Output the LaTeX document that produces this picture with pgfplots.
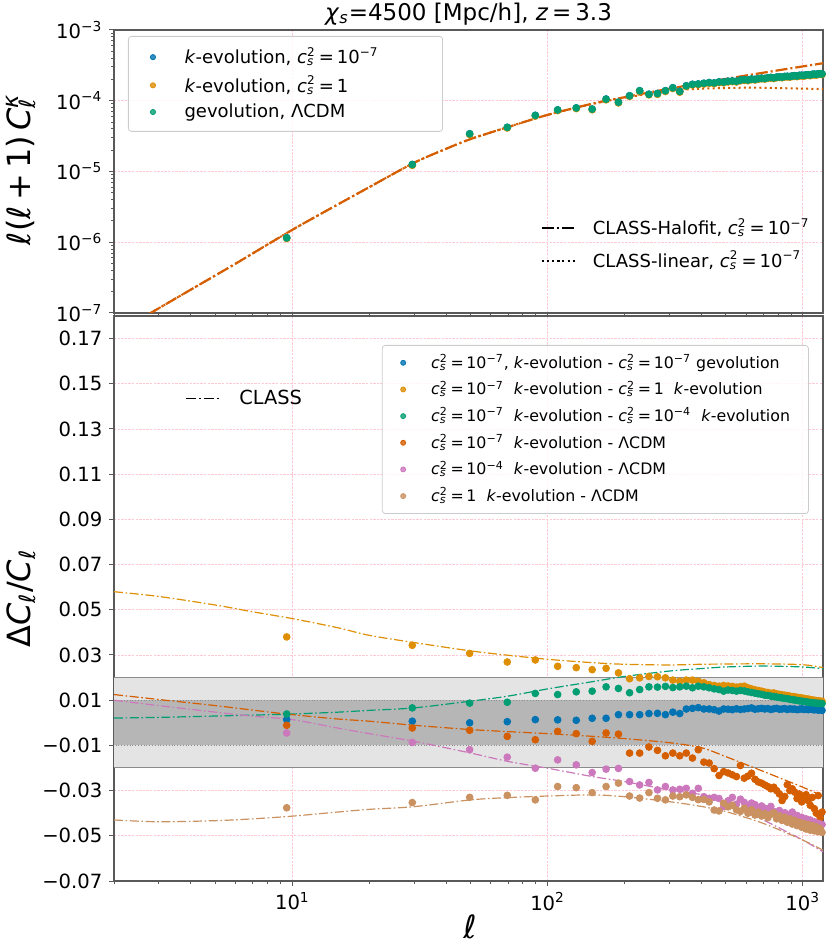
\documentclass[border=0pt]{standalone}
\usepackage{fontspec}
\setmainfont{DejaVu Sans}
\usepackage{pgfplots}
\pgfplotsset{compat=1.18}
\usepackage{pgfplotstable}

\definecolor{cblue}{RGB}{1,115,178}
\definecolor{corange}{RGB}{222,143,5}
\definecolor{cgreen}{RGB}{2,158,115}
\definecolor{cred}{RGB}{213,94,0}
\definecolor{cpink}{RGB}{204,120,188}
\definecolor{ctan}{RGB}{202,145,97}
\definecolor{gridpink}{RGB}{255,200,210}
\definecolor{bandlight}{RGB}{228,228,228}
\definecolor{banddark}{RGB}{182,182,182}

\newcommand{\li}{\textit{ℓ}}
\newcommand{\cs}{\textit{c}\rlap{\textsuperscript{2}}\textsubscript{\textit{s}}\hspace{0.09em}}
\newcommand{\ex}[1]{\textsuperscript{−#1}}

% top panel: l(l+1) C_l^kappa
\pgfplotstableread{
l b o g
9.5 1.16e-6 1.13e-6 1.15e-6
29.5 1.26e-5 1.22e-5 1.25e-5
49.5 3.42e-5 3.33e-5 3.40e-5
69.5 4.22e-5 4.12e-5 4.20e-5
89.5 6.23e-5 6.08e-5 6.20e-5
109.5 7.44e-5 7.25e-5 7.40e-5
129.5 7.94e-5 7.74e-5 7.90e-5
149.5 7.64e-5 7.45e-5 7.60e-5
169.5 1.06e-4 1.03e-4 1.05e-4
189.5 9.55e-5 9.31e-5 9.50e-5
209.5 1.18e-4 1.15e-4 1.17e-4
229.5 1.39e-4 1.35e-4 1.38e-4
249.5 1.24e-4 1.21e-4 1.23e-4
269.5 1.27e-4 1.23e-4 1.26e-4
289.5 1.39e-4 1.35e-4 1.38e-4
309.5 1.53e-4 1.49e-4 1.52e-4
329.5 1.36e-4 1.32e-4 1.35e-4
349.5 1.63e-4 1.59e-4 1.62e-4
369.5 1.71e-4 1.67e-4 1.70e-4
389.5 1.73e-4 1.69e-4 1.72e-4
409.5 1.77e-4 1.72e-4 1.76e-4
429.5 1.81e-4 1.76e-4 1.80e-4
449.5 1.79e-4 1.74e-4 1.78e-4
469.5 1.85e-4 1.80e-4 1.84e-4
489.5 1.84e-4 1.79e-4 1.83e-4
509.5 1.89e-4 1.84e-4 1.88e-4
529.5 1.91e-4 1.86e-4 1.90e-4
549.5 1.89e-4 1.84e-4 1.88e-4
569.5 1.96e-4 1.91e-4 1.95e-4
589.5 1.99e-4 1.94e-4 1.98e-4
609.5 1.97e-4 1.92e-4 1.96e-4
629.5 2.03e-4 1.98e-4 2.02e-4
649.5 2.01e-4 1.96e-4 2.00e-4
669.5 2.06e-4 2.01e-4 2.05e-4
689.5 2.09e-4 2.04e-4 2.08e-4
709.5 2.07e-4 2.02e-4 2.06e-4
729.5 2.12e-4 2.07e-4 2.11e-4
749.5 2.14e-4 2.09e-4 2.13e-4
769.5 2.11e-4 2.06e-4 2.10e-4
789.5 2.16e-4 2.11e-4 2.15e-4
809.5 2.18e-4 2.13e-4 2.17e-4
829.5 2.16e-4 2.11e-4 2.15e-4
849.5 2.21e-4 2.16e-4 2.20e-4
869.5 2.22e-4 2.17e-4 2.21e-4
889.5 2.20e-4 2.15e-4 2.19e-4
909.5 2.25e-4 2.20e-4 2.24e-4
929.5 2.26e-4 2.21e-4 2.25e-4
949.5 2.24e-4 2.19e-4 2.23e-4
969.5 2.29e-4 2.23e-4 2.28e-4
989.5 2.30e-4 2.24e-4 2.29e-4
1009.5 2.28e-4 2.22e-4 2.27e-4
1029.5 2.33e-4 2.27e-4 2.32e-4
1049.5 2.34e-4 2.28e-4 2.33e-4
1069.5 2.32e-4 2.26e-4 2.31e-4
1089.5 2.37e-4 2.31e-4 2.36e-4
1109.5 2.38e-4 2.32e-4 2.37e-4
1129.5 2.36e-4 2.30e-4 2.35e-4
1149.5 2.41e-4 2.35e-4 2.40e-4
1169.5 2.42e-4 2.36e-4 2.41e-4
1189.5 2.40e-4 2.34e-4 2.39e-4
}\toptab

\pgfplotstableread{
l v
2 5.0e-8
3 1.17e-7
4 2.14e-7
6 5.0e-7
10 1.50e-6
15 3.39e-6
20 6.0e-6
30 1.33e-5
40 2.09e-5
50 2.88e-5
70 4.25e-5
100 6.31e-5
150 9.1e-5
200 1.12e-4
300 1.48e-4
500 2.04e-4
800 2.69e-4
1200 3.39e-4
}\halotab

\pgfplotstableread{
l v
2 5.0e-8
3 1.17e-7
4 2.14e-7
6 5.0e-7
10 1.50e-6
15 3.39e-6
20 6.0e-6
30 1.33e-5
40 2.09e-5
50 2.88e-5
70 4.25e-5
100 6.31e-5
150 9.0e-5
200 1.10e-4
300 1.38e-4
400 1.48e-4
600 1.53e-4
800 1.51e-4
1200 1.46e-4
}\lintab

% bottom panel: Delta C_l / C_l
\pgfplotstableread{
l b o g r p t
9.5 0.0014 0.0380 0.0039 -0.0011 -0.0045 -0.0376
29.5 0.0007 0.0343 0.0066 -0.0023 -0.0087 -0.0353
49.5 0.0000 0.0307 0.0087 -0.0033 -0.0119 -0.0330
69.5 0.0005 0.0269 0.0091 -0.0060 -0.0152 -0.0321
89.5 0.0014 0.0278 0.0130 -0.0075 -0.0201 -0.0341
109.5 0.0013 0.0250 0.0125 -0.0038 -0.0164 -0.0282
129.5 0.0011 0.0244 0.0137 -0.0048 -0.0186 -0.0287
149.5 0.0020 0.0235 0.0140 -0.0082 -0.0220 -0.0309
169.5 0.0020 0.0241 0.0159 -0.0045 -0.0205 -0.0282
189.5 0.0036 0.0221 0.0152 -0.0050 -0.0202 -0.0267
209.5 0.0036 0.0195 0.0133 -0.0134 -0.0260 -0.0324
229.5 0.0036 0.0199 0.0147 -0.0134 -0.0275 -0.0333
249.5 0.0041 0.0205 0.0159 -0.0107 -0.0264 -0.0309
269.5 0.0042 0.0204 0.0158 -0.0122 -0.0297 -0.0334
289.5 0.0036 0.0199 0.0161 -0.0146 -0.0282 -0.0341
309.5 0.0047 0.0189 0.0156 -0.0134 -0.0297 -0.0324
329.5 0.0041 0.0184 0.0159 -0.0146 -0.0294 -0.0327
349.5 0.0061 0.0189 0.0162 -0.0134 -0.0290 -0.0319
369.5 0.0064 0.0189 0.0155 -0.0156 -0.0312 -0.0330
389.5 0.0067 0.0184 0.0162 -0.0119 -0.0290 -0.0340
409.5 0.0061 0.0177 0.0159 -0.0174 -0.0327 -0.0339
429.5 0.0061 0.0169 0.0155 -0.0178 -0.0334 -0.0350
449.5 0.0058 0.0165 0.0150 -0.0203 -0.0330 -0.0386
469.5 0.0052 0.0162 0.0147 -0.0233 -0.0335 -0.0390
489.5 0.0061 0.0165 0.0140 -0.0216 -0.0371 -0.0356
509.5 0.0060 0.0163 0.0145 -0.0222 -0.0345 -0.0372
529.5 0.0058 0.0161 0.0143 -0.0230 -0.0330 -0.0365
549.5 0.0062 0.0158 0.0140 -0.0238 -0.0360 -0.0385
569.5 0.0059 0.0160 0.0143 -0.0189 -0.0338 -0.0392
589.5 0.0061 0.0162 0.0141 -0.0245 -0.0352 -0.0378
609.5 0.0063 0.0155 0.0137 -0.0236 -0.0372 -0.0400
629.5 0.0066 0.0150 0.0134 -0.0223 -0.0355 -0.0385
649.5 0.0060 0.0146 0.0131 -0.0250 -0.0362 -0.0408
669.5 0.0062 0.0143 0.0128 -0.0262 -0.0385 -0.0395
689.5 0.0064 0.0140 0.0126 -0.0267 -0.0368 -0.0412
709.5 0.0061 0.0136 0.0122 -0.0275 -0.0378 -0.0402
729.5 0.0063 0.0134 0.0121 -0.0282 -0.0395 -0.0420
749.5 0.0059 0.0131 0.0118 -0.0292 -0.0370 -0.0405
769.5 0.0062 0.0132 0.0116 -0.0285 -0.0392 -0.0398
789.5 0.0064 0.0128 0.0114 -0.0300 -0.0405 -0.0425
809.5 0.0060 0.0126 0.0112 -0.0315 -0.0388 -0.0412
829.5 0.0061 0.0124 0.0110 -0.0344 -0.0410 -0.0432
849.5 0.0063 0.0122 0.0108 -0.0326 -0.0398 -0.0418
869.5 0.0059 0.0121 0.0107 -0.0274 -0.0420 -0.0440
889.5 0.0062 0.0118 0.0104 -0.0300 -0.0405 -0.0425
909.5 0.0060 0.0116 0.0102 -0.0292 -0.0395 -0.0448
929.5 0.0061 0.0115 0.0101 -0.0307 -0.0428 -0.0432
949.5 0.0058 0.0113 0.0099 -0.0335 -0.0410 -0.0455
969.5 0.0060 0.0111 0.0097 -0.0315 -0.0435 -0.0440
989.5 0.0062 0.0110 0.0096 -0.0350 -0.0418 -0.0462
1009.5 0.0059 0.0108 0.0094 -0.0330 -0.0440 -0.0445
1029.5 0.0060 0.0106 0.0093 -0.0318 -0.0425 -0.0470
1049.5 0.0058 0.0105 0.0091 -0.0344 -0.0448 -0.0450
1069.5 0.0061 0.0103 0.0090 -0.0365 -0.0430 -0.0475
1089.5 0.0059 0.0101 0.0089 -0.0330 -0.0452 -0.0455
1109.5 0.0057 0.0100 0.0088 -0.0380 -0.0438 -0.0478
1129.5 0.0059 0.0098 0.0087 -0.0400 -0.0460 -0.0460
1149.5 0.0056 0.0097 0.0086 -0.0322 -0.0445 -0.0482
1169.5 0.0058 0.0096 0.0086 -0.0420 -0.0465 -0.0468
1189.5 0.0055 0.0095 0.0085 -0.0395 -0.0450 -0.0485
}\bottab

\pgfplotstableread{
l o g r p t
2 0.0580 0.0021 0.0125 0.0100 -0.0430
3 0.0559 0.0024 0.0103 0.0076 -0.0438
5 0.0521 0.0030 0.0076 0.0047 -0.0433
7 0.0491 0.0034 0.0056 0.0029 -0.0425
10 0.0461 0.0039 0.0036 0.0014 -0.0413
15 0.0421 0.0047 0.0017 -0.0023 -0.0395
20 0.0387 0.0055 0.0007 -0.0048 -0.0383
30 0.0355 0.0066 -0.0011 -0.0082 -0.0371
50 0.0318 0.0096 -0.0030 -0.0134 -0.0341
70 0.0299 0.0118 -0.0039 -0.0171 -0.0331
100 0.0281 0.0150 -0.0048 -0.0201 -0.0324
150 0.0266 0.0182 -0.0060 -0.0238 -0.0319
200 0.0259 0.0205 -0.0070 -0.0260 -0.0327
300 0.0256 0.0229 -0.0088 -0.0297 -0.0349
400 0.0259 0.0240 -0.0110 -0.0318 -0.0370
500 0.0260 0.0247 -0.0150 -0.0356 -0.0393
700 0.0261 0.0251 -0.0215 -0.0430 -0.0445
1000 0.0257 0.0247 -0.0285 -0.0519 -0.0519
1200 0.0244 0.0239 -0.0325 -0.0571 -0.0564
}\classtab

\begin{document}
\begin{tikzpicture}
% ---------------- top panel ----------------
\begin{axis}[scale only axis, width=354.5pt, height=141.5pt,
  at={(0pt,284pt)}, anchor=south west,
  xmode=log, xmin=2, xmax=1200,
  ymode=log, ymin=1e-7, ymax=1e-3,
  axis line style={black!65, line width=0.6pt},
  tick style={black!65, line width=0.5pt},
  major tick length=2.3pt, minor tick length=1.4pt,
  tick align=outside, xtick pos=left, ytick pos=left,
  xmajorgrids, ymajorgrids,
  major grid style={gridpink, line width=0.4pt, dash pattern=on 1.2pt off 0.6pt},
  tick label style={font=\fontsize{9.8}{11}\selectfont},
  xtick={10,100,1000},
  minor xtick={2,3,4,5,6,7,8,9,20,30,40,50,60,70,80,90,200,300,400,500,600,700,800,900},
  xticklabels={},
  ytick={1e-7,1e-6,1e-5,1e-4,1e-3},
  yticklabels={10\ex{7},10\ex{6},10\ex{5},10\ex{4},10\ex{3}},
  minor ytick={2e-7,3e-7,4e-7,5e-7,6e-7,7e-7,8e-7,9e-7,2e-6,3e-6,4e-6,5e-6,6e-6,7e-6,8e-6,9e-6,2e-5,3e-5,4e-5,5e-5,6e-5,7e-5,8e-5,9e-5,2e-4,3e-4,4e-4,5e-4,6e-4,7e-4,8e-4,9e-4},
  every axis title/.style={at={(0.5,1.0565)}, anchor=center, font=\fontsize{11.5}{13}\selectfont},
  title={\textit{χ}\textsubscript{\textit{s}}=4500 [Mpc/h], \textit{z}\,=\,3.3},
  ylabel style={at={(axis description cs:-0.131,0.5)}, rotate=0, anchor=center, font=\fontsize{16}{18}\selectfont},
  ylabel={\li(\li\,+\,1)\,\textit{C}\rlap{\textsuperscript{\textit{κ}}}\textsubscript{\li}},
  legend cell align=left,
  legend style={at={(0.0197,0.9788)}, anchor=north west, draw=black!20, rounded corners=1.5pt,
    fill=white, fill opacity=0.8, text opacity=1, font=\fontsize{9}{10.5}\selectfont,
    inner xsep=11pt, inner ysep=5.5pt, row sep=4.3pt, nodes={inner sep=0pt},
    /tikz/every odd column/.append style={column sep=14.5pt}},
  legend image post style={mark size=1.3pt},
]
\addplot[forget plot, cred, line width=1pt, dash pattern=on 1pt off 1.6pt, smooth] table[x=l,y=v] {\lintab};
\addplot[forget plot, cred, line width=1.1pt, dash pattern=on 6pt off 1.5pt on 1pt off 1.5pt, smooth] table[x=l,y=v] {\halotab};
\addplot[only marks, mark=*, mark size=1.7pt, color=cblue, mark options={draw=none}] table[x=l,y=b] {\toptab};
\addlegendentry{\textit{k}-evolution, \cs\,=\,10\ex{7}\hspace{21pt}\mbox{}}
\addplot[only marks, mark=*, mark size=1.7pt, color=corange, mark options={draw=none}] table[x=l,y=o] {\toptab};
\addlegendentry{\textit{k}-evolution, \cs\,=\,1}
\addplot[only marks, mark=*, mark size=1.7pt, color=cgreen, mark options={draw=none}] table[x=l,y=g] {\toptab};
\addlegendentry{gevolution, ΛCDM}
\end{axis}

\begin{axis}[at={(0pt,284pt)}, anchor=south west, scale only axis, width=354.5pt, height=141.5pt,
  hide axis, xmin=0, xmax=1, ymin=0, ymax=1, legend cell align=left,
  legend style={at={(0.601,0.336)}, anchor=north west, draw=none, fill=none, inner sep=0pt,
    font=\fontsize{9}{10.5}\selectfont, row sep=6.5pt, nodes={inner sep=0pt},
    /tikz/every odd column/.append style={column sep=8pt}},
]
\addlegendimage{black, line width=1.1pt, dash pattern=on 6pt off 1.5pt on 1pt off 1.5pt}
\addlegendentry{CLASS-Halofit, \cs\,=\,10\ex{7}}
\addlegendimage{black, line width=1pt, dash pattern=on 1pt off 1.6pt}
\addlegendentry{CLASS-linear, \cs\,=\,10\ex{7}}
\end{axis}

% ---------------- bottom panel ----------------
\begin{axis}[scale only axis, width=354.5pt, height=282.5pt,
  at={(0pt,0pt)}, anchor=south west,
  xmode=log, xmin=2, xmax=1200,
  ymin=-0.07, ymax=0.18,
  axis line style={black!65, line width=0.6pt},
  tick style={black!65, line width=0.5pt},
  major tick length=2.3pt, minor tick length=1.4pt,
  tick align=outside, xtick pos=left, ytick pos=left,
  xmajorgrids, ymajorgrids,
  major grid style={gridpink, line width=0.4pt, dash pattern=on 1.2pt off 0.6pt},
  tick label style={font=\fontsize{9.8}{11}\selectfont},
  xtick={10,100,1000},
  minor xtick={2,3,4,5,6,7,8,9,20,30,40,50,60,70,80,90,200,300,400,500,600,700,800,900},
  xticklabels={10\textsuperscript{1},10\textsuperscript{2},10\textsuperscript{3}},
  ytick={-0.07,-0.05,-0.03,-0.01,0.01,0.03,0.05,0.07,0.09,0.11,0.13,0.15,0.17},
  yticklabels={−0.07,−0.05,−0.03,−0.01,0.01,0.03,0.05,0.07,0.09,0.11,0.13,0.15,0.17},
  xlabel style={at={(axis description cs:0.502,-0.0814)}, anchor=center, font=\fontsize{16}{18}\selectfont},
  xlabel={\li},
  ylabel style={at={(axis description cs:-0.131,0.5)}, rotate=0, anchor=center, font=\fontsize{16}{18}\selectfont},
  ylabel={Δ\textit{C}\textsubscript{\li}/\textit{C}\textsubscript{\li}},
  legend cell align=left,
  legend style={at={(0.980,0.9487)}, anchor=north east, draw=black!20, rounded corners=1.5pt,
    fill=white, fill opacity=0.8, text opacity=1, font=\fontsize{7.9}{9}\selectfont,
    inner xsep=9.2pt, inner ysep=4.5pt, row sep=4.9pt, nodes={inner sep=0pt},
    /tikz/every odd column/.append style={column sep=12.7pt}},
  legend image post style={mark size=1.25pt},
]
\addplot[forget plot, draw=none, fill=bandlight] coordinates {(1,-0.02) (2000,-0.02) (2000,0.02) (1,0.02)};
\addplot[forget plot, draw=none, fill=banddark] coordinates {(1,-0.01) (2000,-0.01) (2000,0.01) (1,0.01)};
\addplot[forget plot, black!45, line width=0.5pt] coordinates {(1,0.02) (2000,0.02)};
\addplot[forget plot, black!45, line width=0.5pt] coordinates {(1,-0.02) (2000,-0.02)};
\addplot[forget plot, black!45, line width=0.4pt, densely dotted] coordinates {(1,0.01) (2000,0.01)};
\addplot[forget plot, black!45, line width=0.4pt, densely dotted] coordinates {(1,-0.01) (2000,-0.01)};
\addplot[forget plot, corange, smooth, line width=0.6pt, dash pattern=on 4.5pt off 1.3pt on 0.8pt off 1.3pt] table[x=l,y=o] {\classtab};
\addplot[forget plot, cgreen, smooth, line width=0.6pt, dash pattern=on 4.5pt off 1.3pt on 0.8pt off 1.3pt] table[x=l,y=g] {\classtab};
\addplot[forget plot, cred, smooth, line width=0.6pt, dash pattern=on 4.5pt off 1.3pt on 0.8pt off 1.3pt] table[x=l,y=r] {\classtab};
\addplot[forget plot, cpink, smooth, line width=0.6pt, dash pattern=on 4.5pt off 1.3pt on 0.8pt off 1.3pt] table[x=l,y=p] {\classtab};
\addplot[forget plot, ctan, smooth, line width=0.6pt, dash pattern=on 4.5pt off 1.3pt on 0.8pt off 1.3pt] table[x=l,y=t] {\classtab};
\addplot[only marks, mark=*, mark size=1.7pt, color=cblue, mark options={draw=none}] table[x=l,y=b] {\bottab};
\addlegendentry{\cs\,=\,10\ex{7}, \textit{k}-evolution - \cs\,=\,10\ex{7} gevolution}
\addplot[only marks, mark=*, mark size=1.7pt, color=corange, mark options={draw=none}] table[x=l,y=o] {\bottab};
\addlegendentry{\cs\,=\,10\ex{7}\ \ \textit{k}-evolution - \cs\,=\,1\ \ \textit{k}-evolution}
\addplot[only marks, mark=*, mark size=1.7pt, color=cgreen, mark options={draw=none}] table[x=l,y=g] {\bottab};
\addlegendentry{\cs\,=\,10\ex{7}\ \ \textit{k}-evolution - \cs\,=\,10\ex{4}\ \ \textit{k}-evolution}
\addplot[only marks, mark=*, mark size=1.7pt, color=cred, mark options={draw=none}] table[x=l,y=r] {\bottab};
\addlegendentry{\cs\,=\,10\ex{7}\ \ \textit{k}-evolution - ΛCDM}
\addplot[only marks, mark=*, mark size=1.7pt, color=cpink, mark options={draw=none}] table[x=l,y=p] {\bottab};
\addlegendentry{\cs\,=\,10\ex{4}\ \ \textit{k}-evolution - ΛCDM}
\addplot[only marks, mark=*, mark size=1.7pt, color=ctan, mark options={draw=none}] table[x=l,y=t] {\bottab};
\addlegendentry{\cs\,=\,1\ \ \textit{k}-evolution - ΛCDM}
\end{axis}

\begin{axis}[at={(0pt,0pt)}, anchor=south west, scale only axis, width=354.5pt, height=282.5pt,
  hide axis, xmin=0, xmax=1, ymin=0, ymax=1, legend cell align=left,
  legend style={at={(0.100,0.870)}, anchor=north west, draw=none, fill=none, inner sep=0pt,
    font=\fontsize{9.7}{11}\selectfont, nodes={inner sep=0pt},
    /tikz/every odd column/.append style={column sep=9pt}},
]
\addlegendimage{black, line width=0.9pt, dash pattern=on 5pt off 1.5pt on 1pt off 1.5pt}
\addlegendentry{CLASS}
\end{axis}

\pgfresetboundingbox
\path[use as bounding box] (-57pt,-32pt) rectangle (358.5pt,440.5pt);
\end{tikzpicture}
\end{document}
